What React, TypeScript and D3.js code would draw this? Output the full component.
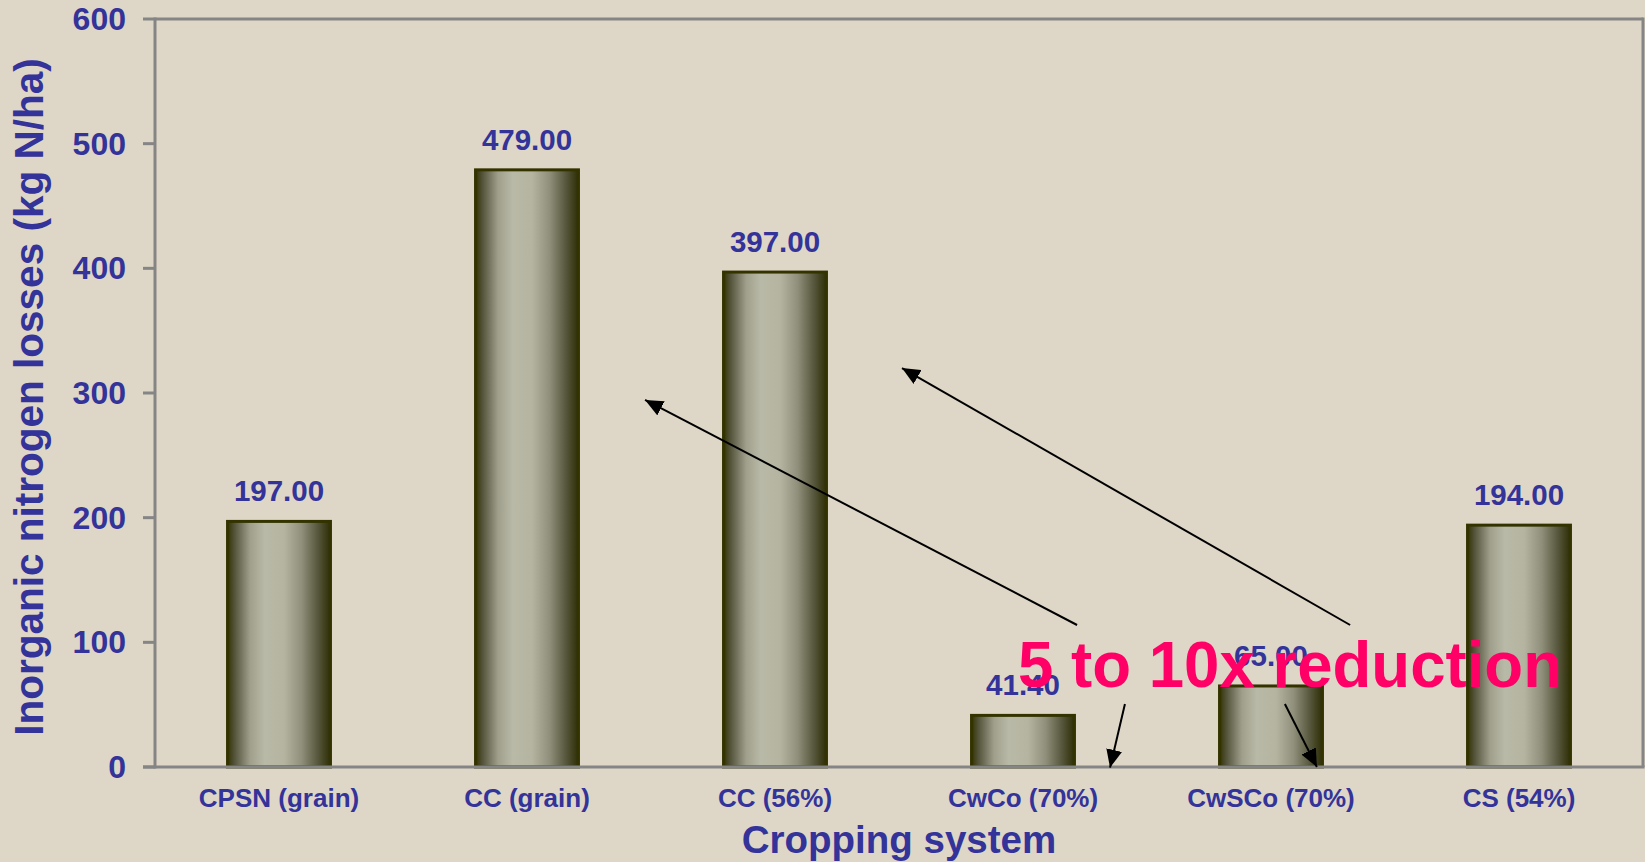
import React from "react";
import * as d3 from "d3";

const categories = ["CPSN (grain)", "CC (grain)", "CC (56%)", "CwCo (70%)", "CwSCo (70%)", "CS (54%)"];
const values = [197, 479, 397, 41.4, 65, 194];
const yTicks = [0, 100, 200, 300, 400, 500, 600];
const yTitle = "Inorganic nitrogen losses (kg N/ha)";
const xTitle = "Cropping system";
const noteText = "5 to 10x reduction";
// annotation arrows in data units: [x in category units, y value] start -> tip
const arrows = [
  { x1: 3.718, y1: 113.9, x2: 1.976, y2: 294.4 },
  { x1: 4.819, y1: 113.9, x2: 3.012, y2: 320.0 },
  { x1: 3.911, y1: 50.5, x2: 3.851, y2: -0.5 },
  { x1: 4.556, y1: 50.5, x2: 4.685, y2: 0 },
];
const noteX = 3.48;
const noteY = 64.2;

const W = 1645;
const H = 862;
const left = 155;
const right = 1643;
const top = 19;
const bottom = 767;
const BLUE = "#333399";
const GRAY = "#858585";

export default function App() {
  const x = d3.scaleBand<string>().domain(categories).range([left, right]).paddingInner(0.585).paddingOuter(0.2925);
  const xu = d3.scaleLinear().domain([0, categories.length]).range([left, right]);
  const y = d3.scaleLinear().domain([0, 600]).range([bottom, top]);
  const bw = x.bandwidth();

  return (
    <div style={{ position: "fixed", left: 0, top: 0, width: W, height: H }}>
      <svg width={W} height={H} style={{ display: "block", fontFamily: "'Liberation Sans', Arial, sans-serif" }}>
        <defs>
          <linearGradient id="barGrad" x1="0" x2="1" y1="0" y2="0">
            <stop offset="0%" stopColor="#333305" />
            <stop offset="7%" stopColor="#55553d" />
            <stop offset="22%" stopColor="#9f9f8c" />
            <stop offset="36%" stopColor="#b9b9a7" />
            <stop offset="55%" stopColor="#b4b4a1" />
            <stop offset="72%" stopColor="#8f8f7b" />
            <stop offset="88%" stopColor="#56563c" />
            <stop offset="100%" stopColor="#2e2e05" />
          </linearGradient>
          <marker id="arrowHead" markerUnits="userSpaceOnUse" markerWidth="20" markerHeight="16" refX="18" refY="8" orient="auto">
            <path d="M0,0 L18,8 L0,16 Z" fill="#000" />
          </marker>
        </defs>
        <rect x={0} y={0} width={W} height={H} fill="#DED7C7" />

        {/* bars */}
        {values.map((v, i) => (
          <rect
            key={categories[i]}
            x={x(categories[i])!}
            y={y(v)}
            width={bw}
            height={y(0) - y(v)}
            fill="url(#barGrad)"
            stroke="#333300"
            strokeWidth={3}
          />
        ))}

        {/* plot frame */}
        <line x1={left} x2={right} y1={top} y2={top} stroke={GRAY} strokeWidth={3} />
        <line x1={right} x2={right} y1={top - 1.5} y2={bottom} stroke={GRAY} strokeWidth={3} />
        <line x1={left} x2={left} y1={top - 1.5} y2={bottom + 1.5} stroke={GRAY} strokeWidth={3} />
        <line x1={left - 12} x2={right + 1.5} y1={bottom} y2={bottom} stroke={GRAY} strokeWidth={3} />

        {/* y ticks */}
        {yTicks.map((t) => (
          <g key={t}>
            <line x1={left - 12} x2={left} y1={y(t)} y2={y(t)} stroke={GRAY} strokeWidth={3} />
            <text x={126} y={y(t) + 11} textAnchor="end" fontSize={32} fontWeight="bold" fill={BLUE}>
              {t}
            </text>
          </g>
        ))}

        {/* x labels */}
        {categories.map((c) => (
          <text key={c} x={x(c)! + bw / 2} y={807} textAnchor="middle" fontSize={26} fontWeight="bold" fill={BLUE}>
            {c}
          </text>
        ))}

        {/* value labels */}
        {values.map((v, i) => (
          <text key={"v" + i} x={x(categories[i])! + bw / 2} y={y(v) - 20} textAnchor="middle" fontSize={29.5} fontWeight="bold" fill={BLUE}>
            {v.toFixed(2)}
          </text>
        ))}

        {/* titles */}
        <text x={(left + right) / 2} y={853} textAnchor="middle" fontSize={38.5} fontWeight="bold" fill={BLUE}>
          {xTitle}
        </text>
        <text
          transform={`translate(43, ${(top + bottom) / 2 + 4}) rotate(-90)`}
          textAnchor="middle"
          fontSize={40.5}
          fontWeight="bold"
          fill={BLUE}
        >
          {yTitle}
        </text>

        {/* arrows */}
        {arrows.map((a, i) => (
          <line
            key={"a" + i}
            x1={xu(a.x1)}
            y1={y(a.y1)}
            x2={xu(a.x2)}
            y2={y(a.y2)}
            stroke="#000"
            strokeWidth={2}
            markerEnd="url(#arrowHead)"
          />
        ))}

        {/* note */}
        <text x={xu(noteX)} y={y(noteY)} fontSize={64} fontWeight="bold" fill="#FF0066" textLength={544} lengthAdjust="spacingAndGlyphs">
          {noteText}
        </text>
      </svg>
    </div>
  );
}
